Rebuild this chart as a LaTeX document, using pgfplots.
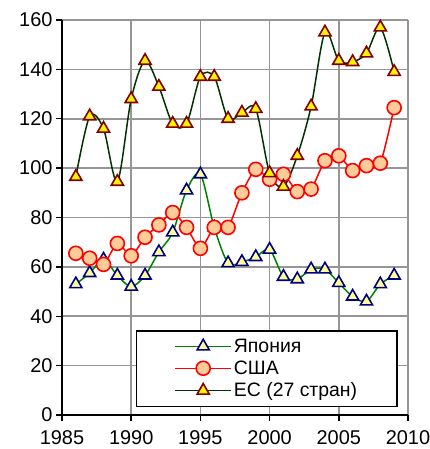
\documentclass[border=0pt]{standalone}
\usepackage{pgfplots}
\pgfplotsset{compat=1.18}
\usepackage{fontspec}
\setmainfont{Liberation Sans}
\definecolor{gridgray}{RGB}{150,150,150}
\definecolor{jpline}{RGB}{0,128,0}
\definecolor{jpedge}{RGB}{0,0,128}
\definecolor{jpfill}{RGB}{255,255,153}
\definecolor{usfill}{RGB}{255,204,153}
\definecolor{euline}{RGB}{0,51,0}
\definecolor{euedge}{RGB}{128,0,0}
\begin{document}
\begin{tikzpicture}
\begin{axis}[
  scale only axis, width=346bp, height=395bp,
  xmin=1985, xmax=2010, ymin=0, ymax=160,
  xtick={1985,1990,...,2010}, ytick={0,20,...,160},
  axis lines*=left,
  axis line style={black, line width=1.8bp},
  grid=major,
  major grid style={gridgray, line width=1.6bp},
  tick style={black, line width=1.5bp},
  tick align=outside, major tick length=6bp,
  /pgf/number format/assume math mode=true,
  /pgf/number format/1000 sep={},
  tick label style={font=\fontsize{20}{23}\selectfont},
  xticklabel style={yshift=-6bp},
  legend style={at={(0.971,0.02)}, anchor=south east, fill=white, draw=black, line width=1.5bp,
    font=\fontsize{19.5}{22}\selectfont, inner xsep=38bp, inner ysep=6bp, row sep=3bp},
  legend cell align=left,
  legend image code/.code={\draw[mark repeat=2,mark phase=2,line width=1.5bp,#1] plot coordinates {(0bp,0bp) (28bp,0bp) (56bp,0bp)};},
]
\addplot[jpline, line width=1.5bp, smooth, tension=0.5, mark=triangle*, mark size=7bp,
  mark options={draw=jpedge, fill=jpfill, line width=1.6bp, solid}] coordinates {
(1986,53) (1987,57.5) (1988,63) (1989,56.5) (1990,52) (1991,56.5) (1992,66) (1993,74) (1994,91) (1995,97.5)
(1996,76) (1997,61.5) (1998,62) (1999,64) (2000,67) (2001,56) (2002,55) (2003,59) (2004,59) (2005,53.5)
(2006,48) (2007,46) (2008,53) (2009,56.5)};
\addlegendentry{Япония}
\addplot[red, line width=1.5bp, smooth, tension=0.4, mark=*, mark size=7bp,
  mark options={draw=red, fill=usfill, line width=1.6bp, solid}] coordinates {
(1986,65.5) (1987,63.5) (1988,61) (1989,69.5) (1990,64.5) (1991,72) (1992,77) (1993,82) (1994,76) (1995,67.5)
(1996,76) (1997,76) (1998,90) (1999,99.5) (2000,95.5) (2001,97.5) (2002,90.5) (2003,91.5) (2004,103) (2005,105)
(2006,99) (2007,101) (2008,102) (2009,124.5)};
\addlegendentry{США}
\addplot[euline, line width=1.5bp, smooth, tension=0.5, mark=triangle*, mark size=7bp,
  mark options={draw=euedge, fill=yellow, line width=1.6bp, solid}] coordinates {
(1986,96.5) (1987,121) (1988,116) (1989,94.5) (1990,128) (1991,143.5) (1992,133) (1993,118) (1994,118) (1995,137)
(1996,137) (1997,120) (1998,122.5) (1999,124) (2000,98) (2001,92.5) (2002,105) (2003,125) (2004,155) (2005,143.5)
(2006,143) (2007,146.5) (2008,157) (2009,139)};
\addlegendentry{ЕС (27 стран)}
\end{axis}
\pgfresetboundingbox
\path[use as bounding box] (-62bp,-34bp) rectangle (368bp,415bp);
\end{tikzpicture}
\end{document}
